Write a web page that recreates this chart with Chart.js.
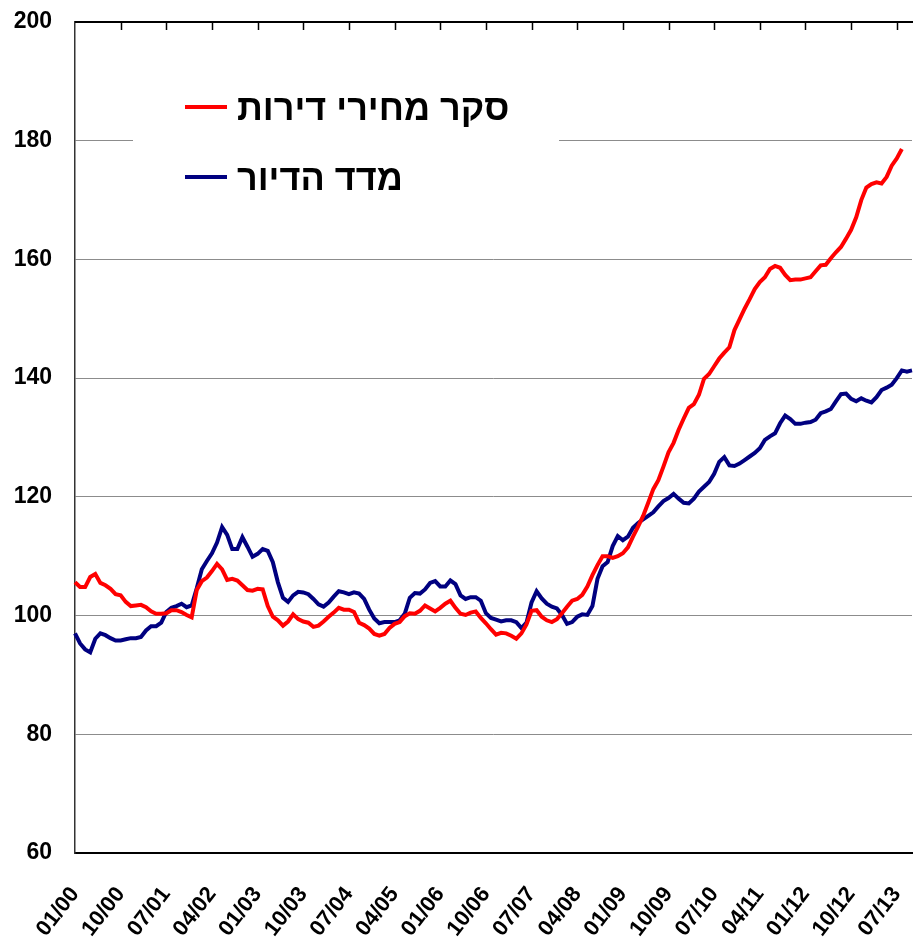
<!DOCTYPE html>
<html>
<head>
<meta charset="utf-8">
<script src="https://cdn.jsdelivr.net/npm/chart.js@4/dist/chart.umd.min.js"></script>
<style>
  html, body { margin: 0; padding: 0; background: #fff; }
  #wrap { width: 913px; height: 946px; position: relative; }
</style>
</head>
<body>
<div id="wrap"><canvas id="chart"></canvas></div>
<script>
// month labels 01/00 .. 10/13
const months = [];
for (let y = 0; y <= 13; y++) {
  for (let m = 1; m <= 12; m++) {
    months.push(String(m).padStart(2, "0") + "/" + String(y).padStart(2, "0"));
  }
}
months.length = 166;

const tickLabels = ["01/00", "10/00", "07/01", "04/02", "01/03", "10/03", "07/04", "04/05", "01/06",
  "10/06", "07/07", "04/08", "01/09", "10/09", "07/10", "04/11", "01/12", "10/12", "07/13"];

const legendNames = ["סקר מחירי דירות", "מדד הדיור"];

// סקר מחירי דירות
const survey = [
  105.6, 104.8, 104.8, 106.5, 107.0, 105.5, 105.1, 104.5, 103.6, 103.4,
  102.3, 101.6, 101.7, 101.8, 101.4, 100.7, 100.3, 100.3, 100.4, 100.9,
  100.9, 100.6, 100.1, 99.7, 104.3, 105.8, 106.4, 107.5, 108.7, 107.8,
  106.0, 106.2, 105.9, 105.1, 104.3, 104.2, 104.5, 104.4, 101.6, 99.8,
  99.2, 98.3, 99.0, 100.2, 99.4, 99.0, 98.8, 98.1, 98.3, 99.0,
  99.8, 100.5, 101.3, 101.0, 101.0, 100.6, 98.8, 98.4, 97.8, 96.9,
  96.6, 96.9, 97.9, 98.6, 98.9, 99.9, 100.4, 100.3, 100.8, 101.7,
  101.2, 100.7, 101.3, 102.0, 102.5, 101.3, 100.3, 100.1, 100.5, 100.7,
  99.6, 98.7, 97.7, 96.8, 97.1, 97.0, 96.6, 96.1, 97.0, 98.5,
  100.8, 100.9, 99.8, 99.2, 98.9, 99.4, 100.4, 101.5, 102.5, 102.8,
  103.5, 104.9, 106.8, 108.5, 110.0, 110.0, 109.7, 110.0, 110.5, 111.5,
  113.3, 115.0, 116.8, 119.0, 121.3, 122.8, 125.1, 127.5, 129.1, 131.3,
  133.2, 135.0, 135.6, 137.2, 139.9, 140.7, 142.0, 143.3, 144.3, 145.2,
  148.1, 149.9, 151.7, 153.3, 155.0, 156.2, 157.0, 158.4, 158.9, 158.6,
  157.4, 156.5, 156.6, 156.6, 156.8, 157.0, 158.0, 159.0, 159.1, 160.2,
  161.2, 162.1, 163.5, 165.0, 167.1, 170.0, 172.1, 172.7, 173.0, 172.8,
  173.9, 175.8, 177.0, 178.6, null, null
];

// מדד הדיור
const housing = [
  97.0, 95.3, 94.3, 93.8, 96.1, 97.0, 96.7, 96.2, 95.8, 95.8,
  96.0, 96.2, 96.2, 96.4, 97.5, 98.2, 98.2, 98.8, 100.6, 101.3,
  101.6, 102.0, 101.4, 101.7, 104.6, 107.8, 109.2, 110.5, 112.3, 114.9,
  113.6, 111.2, 111.2, 113.2, 111.6, 109.9, 110.4, 111.2, 110.9, 109.0,
  105.6, 103.0, 102.3, 103.4, 104.0, 103.9, 103.6, 102.8, 101.9, 101.5,
  102.2, 103.2, 104.1, 103.9, 103.6, 103.9, 103.7, 102.8, 101.0, 99.5,
  98.7, 98.9, 98.9, 98.9, 99.2, 100.3, 103.0, 103.8, 103.7, 104.4,
  105.5, 105.8, 104.9, 104.9, 105.9, 105.3, 103.4, 102.8, 103.1, 103.1,
  102.5, 100.4, 99.6, 99.3, 99.0, 99.2, 99.2, 98.9, 97.9, 98.8,
  102.2, 104.1, 102.9, 102.0, 101.5, 101.2, 100.1, 98.6, 98.9, 99.8,
  100.2, 100.1, 101.6, 106.2, 108.3, 109.0, 111.7, 113.4, 112.7, 113.3,
  114.8, 115.6, 116.2, 116.8, 117.4, 118.4, 119.3, 119.8, 120.5, 119.7,
  119.0, 118.9, 119.7, 120.9, 121.7, 122.5, 123.9, 125.9, 126.7, 125.3,
  125.2, 125.6, 126.2, 126.8, 127.4, 128.2, 129.6, 130.2, 130.7, 132.4,
  133.7, 133.1, 132.3, 132.3, 132.5, 132.6, 133.0, 134.1, 134.4, 134.8,
  136.1, 137.3, 137.4, 136.5, 136.1, 136.6, 136.2, 135.9, 136.8, 138.0,
  138.4, 138.9, 140.0, 141.3, 141.1, 141.3
];

const RED = "#ff0000";
const NAVY = "#000080";
const fontFam = "'Liberation Sans', Arial, sans-serif";

// top frame line, tick marks and the boxed legend
const decor = {
  id: "decor",
  beforeDatasetsDraw(chart) {
    const { ctx, chartArea } = chart;
    const xs = chart.scales.x;
    ctx.save();
    ctx.strokeStyle = "#000";
    ctx.lineWidth = 2;
    ctx.beginPath();
    ctx.moveTo(chartArea.left, chartArea.top);
    ctx.lineTo(chartArea.right + 1, chartArea.top);
    ctx.stroke();
    ctx.lineWidth = 1.5;
    months.forEach((lab, i) => {
      if (!tickLabels.includes(lab) || i === 0) return;
      const x = Math.round(xs.getPixelForValue(i)) + 0.5;
      ctx.beginPath();
      ctx.moveTo(x, chartArea.top);
      ctx.lineTo(x, chartArea.top + 8);
      ctx.stroke();
    });

    // legend
    ctx.fillStyle = "#fff";
    ctx.fillRect(133, 70, 426, 140);
    const rows = [
      { text: legendNames[0], color: RED, y: 107 },
      { text: legendNames[1], color: NAVY, y: 177 }
    ];
    ctx.font = "bold 36px " + fontFam;
    ctx.textBaseline = "middle";
    rows.forEach(r => {
      ctx.strokeStyle = r.color;
      ctx.lineWidth = 4;
      ctx.beginPath();
      ctx.moveTo(185, r.y);
      ctx.lineTo(227, r.y);
      ctx.stroke();
      ctx.fillStyle = "#000";
      ctx.direction = "rtl";
      ctx.textAlign = "left";
      ctx.fillText(r.text, 237, r.y + 3);
    });
    ctx.restore();
  }
};

new Chart(document.getElementById("chart").getContext("2d"), {
  type: "line",
  data: {
    labels: months,
    datasets: [
      {
        label: legendNames[0],
        data: survey,
        borderColor: RED,
        borderWidth: 4,
        pointRadius: 0,
        tension: 0,
        fill: false
      },
      {
        label: legendNames[1],
        data: housing,
        borderColor: NAVY,
        borderWidth: 4,
        pointRadius: 0,
        tension: 0,
        fill: false
      }
    ]
  },
  options: {
    responsive: true,
    maintainAspectRatio: false,
    animation: false,
    layout: { padding: { top: 22, right: 1, left: 0, bottom: 0 } },
    plugins: {
      legend: { display: false },
      tooltip: { enabled: false }
    },
    scales: {
      x: {
        type: "category",
        offset: false,
        afterFit: s => {
          s.height = 93;
          s.paddingLeft = 0;
          s.paddingRight = 0;
        },
        grid: { display: false },
        border: { display: true, color: "#000", width: 2 },
        ticks: {
          autoSkip: false,
          maxRotation: 52,
          minRotation: 52,
          padding: 21,
          color: "#000",
          font: { family: fontFam, size: 22, weight: "bold" },
          callback: (v, i) => (tickLabels.includes(months[i]) ? months[i] : "")
        }
      },
      y: {
        min: 60,
        max: 200,
        afterFit: s => {
          s.width = 75;
          s.paddingTop = 0;
          s.paddingBottom = 0;
        },
        grid: {
          drawTicks: false,
          color: c => (c.tick.value === 60 || c.tick.value === 200 ? "rgba(0,0,0,0)" : "#8c8c8c"),
          lineWidth: 1
        },
        border: { display: true, color: "#333", width: 1.5 },
        ticks: {
          stepSize: 20,
          padding: 23,
          color: "#000",
          font: { family: fontFam, size: 23, weight: "bold" }
        }
      }
    }
  },
  plugins: [decor]
});
</script>
</body>
</html>
